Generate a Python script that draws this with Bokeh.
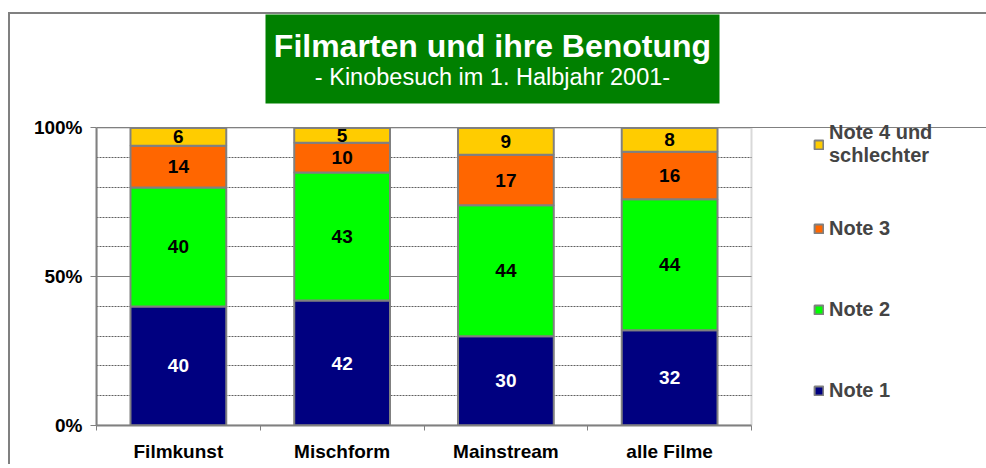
from bokeh.plotting import figure
from bokeh.models import (Range1d, FixedTicker, Legend, LegendItem, Label,
                          BoxAnnotation, ColumnDataSource, InlineStyleSheet)
from bokeh.core.properties import value
from bokeh.embed import file_html
from bokeh.resources import INLINE

# ---- data ----
categories = ["Filmkunst", "Mischform", "Mainstream", "alle Filme"]
note1 = [40, 42, 30, 32]
note2 = [40, 43, 44, 44]
note3 = [14, 10, 17, 16]
note4 = [6, 5, 9, 8]
series_names = ["Note 1", "Note 2", "Note 3", "Note 4 und\nschlechter"]
y_ticks = [0, 50, 100]
y_minor = [10, 20, 30, 40, 60, 70, 80, 90]
title_text = "Filmarten und ihre Benotung"
subtitle_text = "- Kinobesuch im 1. Halbjahr 2001-"

colors = ["#000080", "#00FF00", "#FF6600", "#FFCC00"]
label_colors = ["white", "black", "black", "black"]
FONT = "Liberation Sans"
GRAY = "#808080"

# ---- layout (pixels) ----
W, H = 986, 464
PLOT_L, PLOT_R, PLOT_T, PLOT_B = 96, 751, 128, 427   # the chart's plot area
FRAME_T = 14                                          # frame reaches up to the title box
n = len(categories)
x_end = n * (W - PLOT_L) / (PLOT_R - PLOT_L)
y_end = 100 * (PLOT_B - FRAME_T) / (PLOT_B - PLOT_T)

xs = [i + 0.5 for i in range(n)]
keys = ["n1", "n2", "n3", "n4"]
series = [note1, note2, note3, note4]
src = ColumnDataSource(dict(x=xs, n1=note1, n2=note2, n3=note3, n4=note4))

p = figure(width=W, height=H, output_backend="svg", toolbar_location=None,
           x_range=Range1d(0, x_end), y_range=Range1d(0, y_end),
           min_border_left=PLOT_L, min_border_right=0, min_border_top=FRAME_T,
           min_border_bottom=H - PLOT_B)
p.background_fill_color = "white"
p.border_fill_color = "white"
p.outline_line_color = None
# outer chart frame (only its top and left edges are inside the window)
p.stylesheets = [InlineStyleSheet(css="""
:host {
  position: relative;
  vertical-align: top;
}
:host::after {
  content: "";
  position: absolute;
  left: 8px;
  top: 12px;
  right: 0;
  bottom: 0;
  border-top: 2px solid #808080;
  border-left: 2px solid #808080;
  pointer-events: none;
}
""")]

# x axis: labels at centers, small ticks at category boundaries
xax = p.xaxis[0]
xax.bounds = (0, n)
xax.ticker = FixedTicker(ticks=xs, minor_ticks=list(range(n + 1)))
xax.major_label_overrides = {x: c for x, c in zip(xs, categories)}
xax.major_tick_out = 0
xax.major_tick_in = 0
xax.minor_tick_out = 5
xax.minor_tick_in = 0
xax.minor_tick_line_color = GRAY
xax.axis_line_color = GRAY
xax.axis_line_width = 2
xax.major_label_standoff = 10
xax.major_label_text_font = FONT
xax.major_label_text_font_style = "bold"
xax.major_label_text_font_size = "19px"
xax.major_label_text_color = "black"

yax = p.yaxis[0]
yax.bounds = (0, 100)
yticker = FixedTicker(ticks=y_ticks, minor_ticks=y_minor)
yax.ticker = yticker
yax.major_label_overrides = {t: f"{t}%" for t in y_ticks}
yax.major_tick_out = 6
yax.major_tick_in = 0
yax.minor_tick_out = 0
yax.minor_tick_in = 0
yax.major_tick_line_color = GRAY
yax.axis_line_color = GRAY
yax.axis_line_width = 2
yax.major_label_standoff = 8
yax.major_label_text_font = FONT
yax.major_label_text_font_style = "bold"
yax.major_label_text_font_size = "19px"
yax.major_label_text_color = "black"

p.xgrid.visible = False
p.ygrid.ticker = yticker
p.ygrid.grid_line_color = GRAY
p.ygrid.grid_line_width = 1
p.ygrid.minor_grid_line_color = "#606060"
p.ygrid.minor_grid_line_dash = "2 1"
p.ygrid.minor_grid_line_width = 1

# white area right of the plot area (keeps the grid lines inside the plot area)
p.add_layout(BoxAnnotation(left=n, right=x_end, bottom=0, top=100, fill_color="white",
                           fill_alpha=1, line_color=None, level="underlay"))

rs = p.vbar_stack(keys, x="x", width=0.585, source=src, fill_color=colors,
                  line_color=GRAY, line_width=2)

# value labels
for k, (vals, col) in enumerate(zip(series, label_colors)):
    base = [sum(s[i] for s in series[:k]) for i in range(n)]
    mids = [b + v / 2 for b, v in zip(base, vals)]
    p.text(x=xs, y=mids, text=[str(v) for v in vals], text_color=col,
           text_font=value(FONT), text_font_style="bold", text_font_size="19px",
           text_align="center", text_baseline="middle")

# plot-area border
p.add_layout(BoxAnnotation(left=0, right=n, bottom=0, top=100, fill_alpha=0,
                           line_color=GRAY, line_width=2))

# legend (right of the plot area)
items = [LegendItem(label=nm, renderers=[r]) for nm, r in zip(series_names, rs)][::-1]
legend = Legend(items=items, location=(717, 15), orientation="vertical",
                glyph_width=11, glyph_height=11, label_standoff=5, spacing=41,
                label_height=40, padding=0, margin=0, border_line_color=None,
                background_fill_alpha=0,
                label_text_font=FONT, label_text_font_style="bold",
                label_text_font_size="20px")
p.add_layout(legend, "center")

# title block (green box)
p.add_layout(BoxAnnotation(left=265 - PLOT_L, right=719 - PLOT_L,
                           top=PLOT_B - 14, bottom=PLOT_B - 105,
                           left_units="screen", right_units="screen",
                           top_units="screen", bottom_units="screen",
                           fill_color="#008000", fill_alpha=1, line_color=None))
p.add_layout(Label(x=492 - PLOT_L, y=PLOT_B - 47, x_units="screen", y_units="screen",
                   text=title_text, text_align="center", text_baseline="alphabetic",
                   text_font=FONT, text_font_style="bold", text_font_size="32px",
                   text_color="white"))
p.add_layout(Label(x=492 - PLOT_L, y=PLOT_B - 78, x_units="screen", y_units="screen",
                   text=subtitle_text, text_align="center", text_baseline="alphabetic",
                   text_font=FONT, text_font_size="23.5px", text_color="white"))

open("out.html", "w").write(file_html(p, INLINE))
